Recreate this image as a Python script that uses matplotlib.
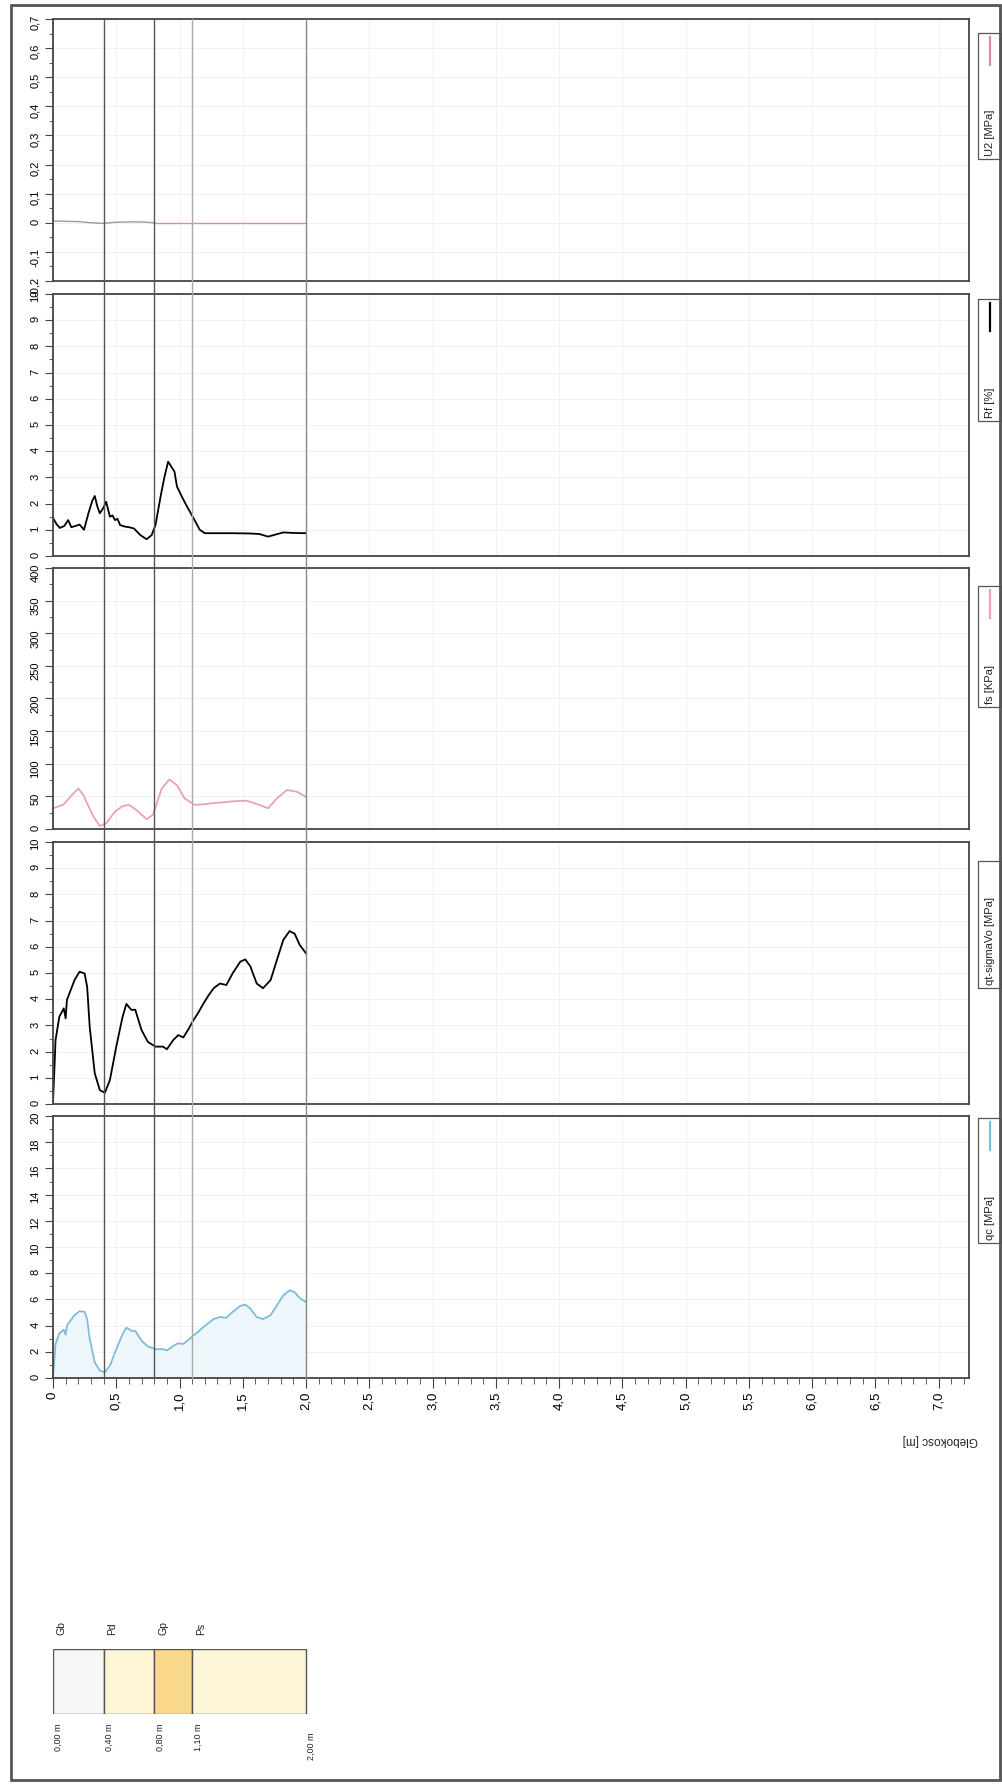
import numpy as np
import matplotlib
matplotlib.use("Agg")
import matplotlib.pyplot as plt
import matplotlib.transforms as mtransforms
from matplotlib.patches import Rectangle
from matplotlib.lines import Line2D
from matplotlib.ticker import MultipleLocator, FuncFormatter

plt.rcParams['font.family'] = ['Liberation Sans', 'DejaVu Sans']

# ---------- data ----------
qc_depth = [0, 0.01, 0.02, 0.05, 0.085, 0.1, 0.11, 0.14, 0.17, 0.21, 0.25, 0.27, 0.29, 0.33,
            0.37, 0.41, 0.45, 0.5, 0.55, 0.58, 0.62, 0.65, 0.7, 0.75, 0.81, 0.87, 0.9, 0.95,
            0.99, 1.03, 1.07, 1.11, 1.15, 1.19, 1.23, 1.27, 1.32, 1.37, 1.42, 1.48, 1.52,
            1.56, 1.61, 1.66, 1.72, 1.77, 1.82, 1.87, 1.91, 1.95, 2.0]
qc = [0.1, 1.3, 2.6, 3.4, 3.7, 3.3, 4.0, 4.4, 4.8, 5.1, 5.05, 4.5, 3.0, 1.2, 0.55, 0.45,
      0.95, 2.2, 3.35, 3.85, 3.6, 3.6, 2.85, 2.4, 2.2, 2.2, 2.1, 2.45, 2.65, 2.6, 2.9, 3.25,
      3.55, 3.9, 4.2, 4.5, 4.65, 4.6, 5.05, 5.5, 5.6, 5.3, 4.65, 4.5, 4.8, 5.55, 6.3, 6.7,
      6.55, 6.1, 5.8]

qt_depth = qc_depth
qt = [0.1, 1.2, 2.44, 3.33, 3.65, 3.27, 3.97, 4.35, 4.73, 5.05, 4.98, 4.47, 2.95, 1.17,
      0.53, 0.43, 0.92, 2.19, 3.33, 3.82, 3.59, 3.6, 2.82, 2.37, 2.19, 2.19, 2.09, 2.44,
      2.63, 2.54, 2.85, 3.2, 3.5, 3.84, 4.15, 4.42, 4.6, 4.54, 4.99, 5.43, 5.52, 5.25, 4.6,
      4.42, 4.73, 5.5, 6.26, 6.6, 6.5, 6.07, 5.75]

fs_depth = [0, 0.08, 0.14, 0.2, 0.24, 0.28, 0.32, 0.37, 0.42, 0.49, 0.55, 0.6, 0.66, 0.74,
            0.79, 0.83, 0.86, 0.92, 0.98, 1.04, 1.12, 1.2, 1.27, 1.35, 1.42, 1.53, 1.63,
            1.7, 1.77, 1.85, 1.93, 2.0]
fs = [31.7, 37, 50, 62, 52, 35, 19, 4.6, 8.7, 26.6, 35, 37, 29, 15, 21.8, 45, 62, 76, 67,
      47, 37, 38, 39.8, 41, 42.4, 43.4, 37, 31.7, 47, 59.8, 57, 49]

rf_depth = [0, 0.03, 0.055, 0.09, 0.12, 0.145, 0.18, 0.21, 0.245, 0.28, 0.31, 0.33, 0.35,
            0.37, 0.40, 0.42, 0.45, 0.47, 0.49, 0.51, 0.53, 0.57, 0.6, 0.64, 0.69, 0.74,
            0.78, 0.81, 0.85, 0.88, 0.91, 0.93, 0.96, 0.98, 1.02, 1.06, 1.11, 1.16, 1.2,
            1.3, 1.42, 1.55, 1.63, 1.7, 1.76, 1.82, 1.9, 2.0]
rf = [1.45, 1.2, 1.07, 1.15, 1.37, 1.1, 1.15, 1.2, 1.0, 1.63, 2.1, 2.29, 1.9, 1.63, 1.85,
      2.07, 1.5, 1.55, 1.37, 1.42, 1.18, 1.12, 1.1, 1.05, 0.8, 0.64, 0.8, 1.18, 2.26, 3.0,
      3.6, 3.45, 3.22, 2.65, 2.25, 1.88, 1.45, 1.0, 0.87, 0.87, 0.87, 0.86, 0.84, 0.74,
      0.82, 0.9, 0.88, 0.87]

u2_depth = [0, 0.1, 0.2, 0.3, 0.4, 0.5, 0.6, 0.7, 0.8, 1.2, 1.6, 2.0]
u2 = [0.006, 0.005, 0.004, 0.0, -0.002, 0.002, 0.003, 0.003, 0.0, 0.0, 0.0, 0.0]

layer_names = ["Gb", "Pd", "Gp", "Ps"]
layer_top = [0.0, 0.4, 0.8, 1.1]
layer_bottom = [0.4, 0.8, 1.1, 2.0]
layer_colors = ["#f7f7f5", "#fdf5d6", "#fbd98c", "#fdf6d8"]
depth_labels = ["0,00 m", "0,40 m", "0,80 m", "1,10 m", "2,00 m"]

# ---------- layout ----------
W, H = 1003, 1785
fig = plt.figure(figsize=(W / 100, H / 100), dpi=100)

def fx(x):
    return x / W

def fy(y):
    return 1 - y / H

X0, X1 = 53, 969
DMAX = 7.24

def comma(v, pos):
    v = round(v, 3)
    if v == 0:
        return "0"
    return ("%g" % v).replace(".", ",")

def depth_fmt(v, pos):
    v = round(v, 3)
    if v == 0:
        return "0"
    return ("%.1f" % v).replace(".", ",")

panels = [
    # top px, bottom px, ylim, major, minor, legend label, colour
    (19, 281, (-0.2, 0.7), 0.1, 0.05, "U2 [MPa]", "#d9909c"),
    (294, 556, (0, 10), 1, 0.5, "Rf [%]", "black"),
    (568, 829, (0, 400), 50, 25, "fs [KPa]", "#e7a3b3"),
    (842, 1104, (0, 10), 1, 0.5, "qt-sigmaVo [MPa]", "black"),
    (1116, 1378, (0, 20), 2, 1, "qc [MPa]", "#7fbcd9"),
]
series = [(u2_depth, u2), (rf_depth, rf), (fs_depth, fs), (qt_depth, qt), (qc_depth, qc)]

axes = []
for i, (top, bot, ylim, maj, mnr, lab, col) in enumerate(panels):
    ax = fig.add_axes([fx(X0), fy(bot), fx(X1) - fx(X0), (bot - top) / H])
    ax.set_xlim(0, DMAX)
    ax.set_ylim(*ylim)
    ax.yaxis.set_major_locator(MultipleLocator(maj))
    ax.yaxis.set_minor_locator(MultipleLocator(mnr))
    ax.yaxis.set_major_formatter(FuncFormatter(comma))
    ax.xaxis.set_major_locator(MultipleLocator(0.5))
    ax.xaxis.set_minor_locator(MultipleLocator(0.1))
    ax.grid(True, which="major", color="#efefef", lw=0.6)
    ax.set_axisbelow(True)
    ax.tick_params(axis="y", which="major", labelrotation=90, labelsize=8, length=6,
                   width=0.8, color="#444", pad=3)
    ax.tick_params(axis="y", which="minor", length=3, width=0.6, color="#444")
    for s in ax.spines.values():
        s.set_color("#444")
        s.set_linewidth(1.3)
    d, v = series[i]
    if i == 0:
        ax.plot(d[:9], v[:9], color="#9a9a9a", lw=1.0)
        ax.plot(d[8:], v[8:], color=col, lw=1.0)
    elif i == 4:
        ax.fill_between(d, 0, v, color="#edf7fb", lw=0)
        ax.plot(d, v, color=col, lw=1.3)
    else:
        ax.plot(d, v, color=col, lw=1.3)
    if i < 4:
        ax.tick_params(axis="x", which="both", bottom=False, labelbottom=False)
    else:
        ax.xaxis.set_major_formatter(FuncFormatter(depth_fmt))
        ax.tick_params(axis="x", which="major", labelrotation=90, labelsize=9.5, length=7,
                       width=0.8, color="#444", pad=3)
        ax.tick_params(axis="x", which="minor", length=4, width=0.6, color="#444")
    axes.append(ax)

ax_qc = axes[-1]

# layer boundaries running through all panels
trans = mtransforms.blended_transform_factory(ax_qc.transData, fig.transFigure)
for d, c in zip(layer_bottom, ["#555555", "#555555", "#aaaaaa", "#888888"]):
    fig.add_artist(Line2D([d, d], [fy(19), fy(1378)], transform=trans, color=c, lw=1.0))

fig.text(fx(978), fy(1440), "Glebokosc [m]", rotation=180, ha="right", va="center",
         fontsize=8.5, color="#222")

# legends on the right
legend_px = [(33, 159), (299, 421), (586, 707), (861, 988), (1118, 1243)]
for (top, bot), p in zip(legend_px, panels):
    lab, col = p[5], p[6]
    fig.add_artist(Rectangle((fx(978), fy(bot)), fx(1001) - fx(978), (bot - top) / H,
                             fill=False, ec="#555", lw=0.9))
    if lab != "qt-sigmaVo [MPa]":
        fig.add_artist(Line2D([fx(990), fx(990)], [fy(top + 4), fy(top + 32)],
                              color=col, lw=1.6))
    fig.text(fx(990), fy(bot - 3), lab, rotation=90, ha="center", va="bottom",
             fontsize=8, color="#222")

# soil column
ax_s = fig.add_axes([fx(X0), fy(1714), fx(X1) - fx(X0), 65 / H])
ax_s.set_xlim(0, DMAX)
ax_s.set_ylim(0, 1)
ax_s.axis("off")
for t, b, c, n in zip(layer_top, layer_bottom, layer_colors, layer_names):
    ax_s.add_patch(Rectangle((t, 0), b - t, 1, facecolor=c, edgecolor="#555", lw=1.0))
    ax_s.text(t + 0.03, 1.22, n, rotation=90, ha="left", va="bottom", fontsize=7.5,
              color="#222")
for d, lab in zip(layer_top + [layer_bottom[-1]], depth_labels):
    yy = -0.14 if d < 2 else -0.28
    ax_s.text(d + 0.01, yy, lab, rotation=90, ha="left", va="top", fontsize=6.5,
              color="#222")

# page frame
fig.add_artist(Rectangle((fx(11), fy(1780)), fx(1000) - fx(11), fy(5) - fy(1780),
                         fill=False, ec="#555", lw=2.0))

fig.savefig("out.png", dpi=100)
